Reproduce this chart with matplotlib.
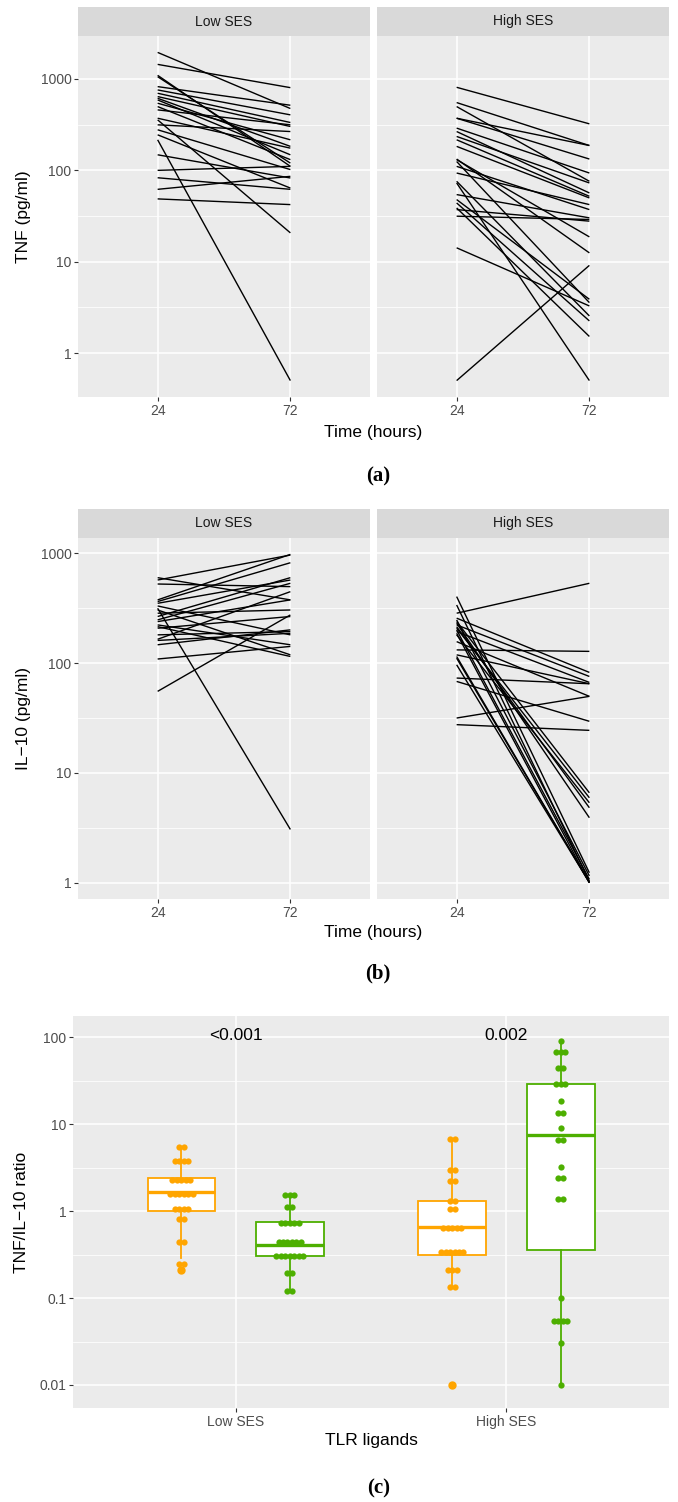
import numpy as np
import matplotlib
matplotlib.use('Agg')
import matplotlib.pyplot as plt
from matplotlib.ticker import FixedLocator, NullFormatter, FixedFormatter

# ---------------- data ----------------
facets = ['Low SES', 'High SES']
time_labels = ['24', '72']

tnf_low_24 = [1954, 1445, 1097, 1060, 825, 759, 698, 642, 615, 590, 543, 499, 459, 372,
              315, 278, 245, 216, 148, 100, 83, 62, 48.7, 357]
tnf_low_72 = [475, 804, 110.6, 120, 516, 405, 334, 302, 183, 148, 216, 131, 315, 175,
              266, 102, 64, 0.5, 82.5, 110.6, 62, 86, 42.2, 20.7]
tnf_high_24 = [811, 552, 499, 372, 372, 290, 266, 235, 216, 183, 133, 125, 110.6, 93.5,
               75.9, 72.8, 54.3, 47.9, 44, 38.8, 37.2, 31.5, 14.2, 0.5, 131]
tnf_high_72 = [323, 187, 75.9, 187, 133, 93.5, 56.6, 72.8, 52, 49.9, 12.5, 3.57, 37.2, 42.2,
               2.55, 0.5, 30.2, 3.88, 2.25, 1.52, 27.8, 29, 3.28, 9.12, 18.7]

il10_low_24 = [601, 572, 526, 377, 364, 351, 332, 316, 305, 248, 239, 223, 215, 208,
               181, 165, 161, 147, 109, 55.3, 285, 266]
il10_low_72 = [377, 966, 498, 979, 822, 572, 181, 3.05, 119, 534, 377, 147, 115, 266,
               194, 448, 187, 201, 142, 275, 305, 601]
il10_high_24 = [285, 404, 339, 257, 239, 223, 208, 194, 181, 157, 132, 119, 111, 96.6,
                73.1, 68.1, 31.6, 27.5, 231, 215, 201, 187, 115, 248]
il10_high_72 = [534, 1.23, 1.03, 82.3, 6.58, 75.6, 5.93, 66.7, 5.34, 49.8, 128, 64.9, 1.0, 1.0,
                64.9, 29.5, 49.8, 24.4, 3.9, 4.81, 1.07, 1.0, 1.0, 1.15]

groups_c = ['Low SES', 'High SES']
p_values = ['<0.001', '0.002']
ratio_low_orange = [5.42, 5.42, 3.77, 3.77, 3.77, 3.77, 2.26, 2.26, 2.26, 2.26, 2.26,
                    1.57, 1.57, 1.57, 1.57, 1.57, 1.57, 1.06, 1.06, 1.06, 1.06,
                    0.81, 0.81, 0.44, 0.44, 0.244, 0.244, 0.21]
ratio_low_green = [1.53, 1.53, 1.53, 1.12, 1.12, 0.724, 0.724, 0.724, 0.724, 0.724,
                   0.438, 0.438, 0.438, 0.438, 0.438, 0.438,
                   0.304, 0.304, 0.304, 0.304, 0.304, 0.304, 0.304,
                   0.192, 0.192, 0.12, 0.12]
ratio_high_orange = [6.7, 6.7, 3.0, 3.0, 2.2, 2.2, 1.31, 1.31, 1.06, 1.06,
                     0.644, 0.644, 0.644, 0.644, 0.644,
                     0.336, 0.336, 0.336, 0.336, 0.336, 0.336,
                     0.208, 0.208, 0.208, 0.134, 0.134, 0.01]
ratio_high_green = [91.4, 67.1, 67.1, 67.1, 44.7, 44.7, 28.8, 28.8, 28.8, 18.7, 13.5, 13.5,
                    9.12, 6.58, 6.58, 3.19, 2.42, 2.42, 1.38, 1.38, 0.1,
                    0.0543, 0.0543, 0.0543, 0.0543, 0.0301, 0.01]
# box statistics: whisker low, q1, median, q3, whisker high
box_low_orange = [0.286, 1.0, 1.64, 2.42, 5.5]
box_low_green = [0.12, 0.304, 0.41, 0.756, 1.53]
box_high_orange = [0.13, 0.31, 0.65, 1.31, 6.7]
box_high_green = [0.01, 0.36, 7.5, 28.9, 91.4]
fliers_low_orange = [0.21]
fliers_low_green = []
fliers_high_orange = [0.01]
fliers_high_green = []

# ---------------- style ----------------
plt.rcParams['font.family'] = ['Liberation Sans', 'DejaVu Sans']
W, H = 678, 1502
fig = plt.figure(figsize=(W / 100, H / 100), dpi=100)
fig.patch.set_facecolor('white')

PANEL_BG = '#EBEBEB'
STRIP_BG = '#D9D9D9'
ORANGE = '#FFA500'
GREEN = '#4DAF00'


def ax_px(x, y, w, h):
    return fig.add_axes([x / W, 1 - (y + h) / H, w / W, h / H])


def style_panel(ax, yticks, ylabels, show_y):
    ax.set_facecolor(PANEL_BG)
    for s in ax.spines.values():
        s.set_visible(False)
    ax.set_yscale('log')
    ax.yaxis.set_major_locator(FixedLocator(yticks))
    ax.yaxis.set_major_formatter(FixedFormatter(ylabels))
    minor = [t * np.sqrt(10) for t in yticks[:-1]]
    ax.yaxis.set_minor_locator(FixedLocator(minor))
    ax.yaxis.set_minor_formatter(NullFormatter())
    ax.xaxis.set_minor_locator(FixedLocator([]))
    ax.grid(which='major', color='white', lw=1.1)
    ax.grid(which='minor', axis='y', color='white', lw=0.55)
    ax.set_axisbelow(True)
    ax.tick_params(which='minor', length=0)
    ax.tick_params(which='major', length=2.7, width=0.8, color='#333333',
                   labelcolor='#4D4D4D', labelsize=10, pad=2)
    if not show_y:
        ax.tick_params(axis='y', which='both', length=0, labelleft=False)


def strip(x, y, w, h, label):
    s = ax_px(x, y, w, h)
    s.set_facecolor(STRIP_BG)
    for sp in s.spines.values():
        sp.set_visible(False)
    s.set_xticks([])
    s.set_yticks([])
    s.text(0.5, 0.5, label, ha='center', va='center', fontsize=10,
           color='#1A1A1A', transform=s.transAxes)


def lim_log(vals):
    lo, hi = np.log10(min(vals)), np.log10(max(vals))
    e = 0.05 * (hi - lo)
    return 10 ** (lo - e), 10 ** (hi + e)


def spaghetti(ytop, data, ylabel, caption, caption_y, xlabel_y):
    strip_h = 29
    panel_h = 361
    xs = [(78, 292), (377, 292)]
    allv = [v for pair in data for arr in pair for v in arr]
    ylim = lim_log(allv)
    for k, ((x0, w), (v24, v72)) in enumerate(zip(xs, data)):
        strip(x0, ytop, w, strip_h, facets[k])
        ax = ax_px(x0, ytop + strip_h, w, panel_h)
        for a, b in zip(v24, v72):
            ax.plot([1, 2], [a, b], color='black', lw=1.0, solid_capstyle='butt')
        style_panel(ax, [1, 10, 100, 1000], ['1', '10', '100', '1000'], k == 0)
        ax.set_xlim(0.4, 2.6)
        ax.set_ylim(*ylim)
        ax.set_xticks([1, 2])
        ax.set_xticklabels(time_labels)
    cy = ytop + strip_h + panel_h / 2
    fig.text(24 / W, 1 - cy / H, ylabel, rotation=90, ha='center', va='center',
             fontsize=12.5, color='black')
    fig.text(373.5 / W, 1 - xlabel_y / H, 'Time (hours)', ha='center', va='center',
             fontsize=12.5, color='black')
    fig.text(378 / W, 1 - caption_y / H, caption, ha='center', va='center',
             fontsize=15, fontweight='bold', family=['Liberation Serif', 'DejaVu Serif'])


spaghetti(7, [(tnf_low_24, tnf_low_72), (tnf_high_24, tnf_high_72)],
          'TNF (pg/ml)', '(a)', 476, 432)
spaghetti(509, [(il10_low_24, il10_low_72), (il10_high_24, il10_high_72)],
          'IL\u221210 (pg/ml)', '(b)', 973, 933)

# ---------------- panel (c) ----------------
axc = ax_px(73, 1016, 596, 392)
style_panel(axc, [0.01, 0.1, 1, 10, 100], ['0.01', '0.1', '1', '10', '100'], True)
axc.set_xlim(0.4, 2.6)
axc.set_ylim(10 ** -2.265, 10 ** 2.245)
axc.set_xticks([1, 2])
axc.set_xticklabels(groups_c)
axc.tick_params(axis='x', labelsize=10)

dodge = 0.2
box_w = 0.25
dot_step = 0.0165
series = [
    (1 - dodge, ratio_low_orange, box_low_orange, fliers_low_orange, ORANGE),
    (1 + dodge, ratio_low_green, box_low_green, fliers_low_green, GREEN),
    (2 - dodge, ratio_high_orange, box_high_orange, fliers_high_orange, ORANGE),
    (2 + dodge, ratio_high_green, box_high_green, fliers_high_green, GREEN),
]
for pos, vals, st, fl, col in series:
    stats = [dict(whislo=st[0], q1=st[1], med=st[2], q3=st[3], whishi=st[4], fliers=fl)]
    axc.bxp(stats, positions=[pos], widths=box_w, showcaps=False, patch_artist=True,
            boxprops=dict(facecolor='white', edgecolor=col, lw=1.3),
            whiskerprops=dict(color=col, lw=1.3),
            medianprops=dict(color=col, lw=2.4),
            flierprops=dict(marker='o', markerfacecolor=col, markeredgecolor=col,
                            markersize=5.0),
            zorder=2, manage_ticks=False)
    uniq, counts = np.unique(np.array(vals), return_counts=True)
    for v, n in zip(uniq, counts):
        offs = (np.arange(n) - (n - 1) / 2) * dot_step
        axc.plot(pos + offs, [v] * n, 'o', color=col, markersize=4.5,
                 markeredgewidth=0, zorder=3)

for i, p in enumerate(p_values):
    axc.text(i + 1, 106, p, ha='center', va='center', fontsize=12.5, color='black')

fig.text(22 / W, 1 - 1212 / H, 'TNF/IL\u221210 ratio', rotation=90, ha='center',
         va='center', fontsize=12.5)
fig.text(371 / W, 1 - 1441 / H, 'TLR ligands', ha='center', va='center', fontsize=12.5)
fig.text(379 / W, 1 - 1488 / H, '(c)', ha='center', va='center', fontsize=15,
         fontweight='bold', family=['Liberation Serif', 'DejaVu Serif'])

fig.savefig('out.png', dpi=100, facecolor='white')
